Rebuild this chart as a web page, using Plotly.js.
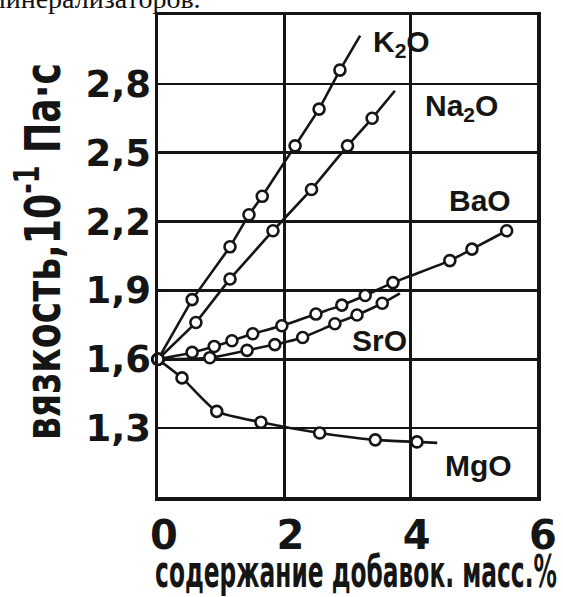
<!DOCTYPE html>
<html>
<head>
<meta charset="utf-8">
<script src="https://cdn.plot.ly/plotly-3.0.1.min.js"></script>
<style>
  html, body { margin: 0; padding: 0; background: #fff; }
  #chart { width: 563px; height: 597px; }
</style>
</head>
<body>
<div id="chart"></div>
<script>
// ---- data ----
const K2O_x  = [0, 0.54, 1.14, 1.44, 1.65, 2.17, 2.55, 2.88];
const K2O_y  = [1.60, 1.86, 2.09, 2.23, 2.31, 2.53, 2.69, 2.86];
const K2O_end = [3.20, 3.01];

const Na2O_x = [0, 0.60, 1.14, 1.82, 2.43, 3.00, 3.39];
const Na2O_y = [1.60, 1.76, 1.95, 2.16, 2.34, 2.53, 2.65];
const Na2O_end = [3.75, 2.77];

const BaO_x  = [0, 0.54, 0.89, 1.17, 1.50, 1.96, 2.50, 2.91, 3.28, 3.72, 4.62, 4.97, 5.52];
const BaO_y  = [1.60, 1.63, 1.656, 1.681, 1.711, 1.746, 1.797, 1.836, 1.878, 1.934, 2.03, 2.08, 2.16];
const BaO_end = [5.52, 2.16];

const SrO_x  = [0, 0.82, 1.41, 1.85, 2.29, 2.80, 3.15, 3.55];
const SrO_y  = [1.60, 1.607, 1.639, 1.664, 1.695, 1.755, 1.793, 1.844];
const SrO_end = [3.83, 1.887];

const MgO_x  = [0, 0.38, 0.93, 1.63, 2.56, 3.44, 4.10];
const MgO_y  = [1.60, 1.519, 1.373, 1.326, 1.279, 1.249, 1.240];
const MgO_end = [4.42, 1.236];

const seriesNames = ['K<sub>2</sub>O', 'Na<sub>2</sub>O', 'BaO', 'SrO', 'MgO'];
const xTickVals = [0, 2, 4, 6];
const xTickText = ['0', '2', '4', '6'];
const yTickVals = [1.3, 1.6, 1.9, 2.2, 2.5, 2.8];
const yTickText = ['1,3', '1,6', '1,9', '2,2', '2,5', '2,8'];
const xTitle = 'содержание добавок. масс.%';
const yTitle = 'вязкость,10<sup>-1</sup> Па·с';
const headText = 'минерализаторов.';

// ---- build traces ----
const INK = '#151515';
const series = [
  {name: seriesNames[0], x: K2O_x, y: K2O_y, end: K2O_end, shape: 'linear'},
  {name: seriesNames[1], x: Na2O_x, y: Na2O_y, end: Na2O_end, shape: 'linear'},
  {name: seriesNames[2], x: BaO_x, y: BaO_y, end: BaO_end, shape: 'spline'},
  {name: seriesNames[3], x: SrO_x, y: SrO_y, end: SrO_end, shape: 'spline'},
  {name: seriesNames[4], x: MgO_x, y: MgO_y, end: MgO_end, shape: 'spline'}
];

const traces = [];
series.forEach(s => {
  traces.push({
    type: 'scatter', mode: 'lines', name: s.name, showlegend: false,
    x: s.x.concat([s.end[0]]), y: s.y.concat([s.end[1]]),
    line: {color: INK, width: 2.6, shape: s.shape, smoothing: 0.6},
    cliponaxis: false, hoverinfo: 'skip'
  });
});
series.forEach(s => {
  traces.push({
    type: 'scatter', mode: 'markers', name: s.name, showlegend: false,
    x: s.x, y: s.y,
    marker: {symbol: 'circle', size: 11, color: '#ffffff', line: {color: INK, width: 2.6}},
    cliponaxis: false
  });
});

const labelFont = {family: 'Liberation Sans, Arial, sans-serif', size: 30, color: INK, weight: 'bold'};
const labelPos = [[3.85, 2.976], [4.81, 2.697], [5.10, 2.294], [3.50, 1.68], [5.07, 1.137]];
const annotations = seriesNames.map((n, i) => ({
  x: labelPos[i][0], y: labelPos[i][1], xref: 'x', yref: 'y',
  text: n, showarrow: false, font: labelFont, xanchor: 'center', yanchor: 'middle'
}));
annotations.push({
  x: 0.119, y: 1.034, xref: 'paper', yref: 'paper', xanchor: 'right', yanchor: 'middle',
  text: headText, showarrow: false,
  font: {family: 'Liberation Serif, Times New Roman, serif', size: 28, color: '#111'}
});

const XT_SIZE = 44, YT_SIZE = 50;
const layout = {
  width: 563, height: 597,
  margin: {l: 158, r: 26, t: 15, b: 100, pad: 0},
  paper_bgcolor: '#ffffff', plot_bgcolor: '#ffffff',
  showlegend: false,
  xaxis: {
    range: [0, 6], tickmode: 'array', tickvals: xTickVals, ticktext: xTickText,
    showgrid: true, gridcolor: INK, gridwidth: 2.6, zeroline: false,
    showline: true, mirror: true, linecolor: INK, linewidth: 3.5,
    ticks: '', ticklabelshift: 6,
    tickfont: {family: 'DejaVu Sans, sans-serif', size: 40, color: INK, weight: 'bold'},
    title: {text: xTitle, standoff: 4,
      font: {family: 'DejaVu Sans, sans-serif', size: XT_SIZE, color: INK, weight: 'bold'}}
  },
  yaxis: {
    range: [1.0, 3.1], tickmode: 'array', tickvals: yTickVals, ticktext: yTickText,
    showgrid: true, gridcolor: INK, gridwidth: 2.6, zeroline: false,
    showline: true, mirror: true, linecolor: INK, linewidth: 3.5,
    ticks: '', ticklabelstandoff: -4,
    tickfont: {family: 'DejaVu Sans, sans-serif', size: 37, color: INK, weight: 'bold'},
    title: {text: yTitle, standoff: 10,
      font: {family: 'DejaVu Sans, sans-serif', size: YT_SIZE, color: INK, weight: 'bold'}}
  },
  annotations: annotations
};

// condense a title along its reading direction, then place it
function condense(el, targetLen, place) {
  if (!el) return;
  const X = parseFloat(el.getAttribute('x')) || 0;
  const Y = parseFloat(el.getAttribute('y')) || 0;
  const base = el.getAttribute('transform') || '';
  const s = targetLen / el.getBBox().width;
  const inner = `${base} translate(${X},${Y}) scale(${s},1) translate(${-X},${-Y})`;
  el.setAttribute('transform', inner);
  const r = el.getBoundingClientRect();
  const d = place(r);
  el.setAttribute('transform', `translate(${d[0]},${d[1]}) ${inner}`);
}

Plotly.newPlot('chart', traces, layout, {displayModeBar: false, staticPlot: true}).then(gd => {
  condense(gd.querySelector('.xtitle'), 402, r => [356 - (r.left + r.right) / 2, (587 + 0.236 * XT_SIZE) - r.bottom]);
  condense(gd.querySelector('.ytitle'), 377, r => [(60 + 0.236 * YT_SIZE) - r.right, 251.5 - (r.top + r.bottom) / 2]);
});
</script>
</body>
</html>
